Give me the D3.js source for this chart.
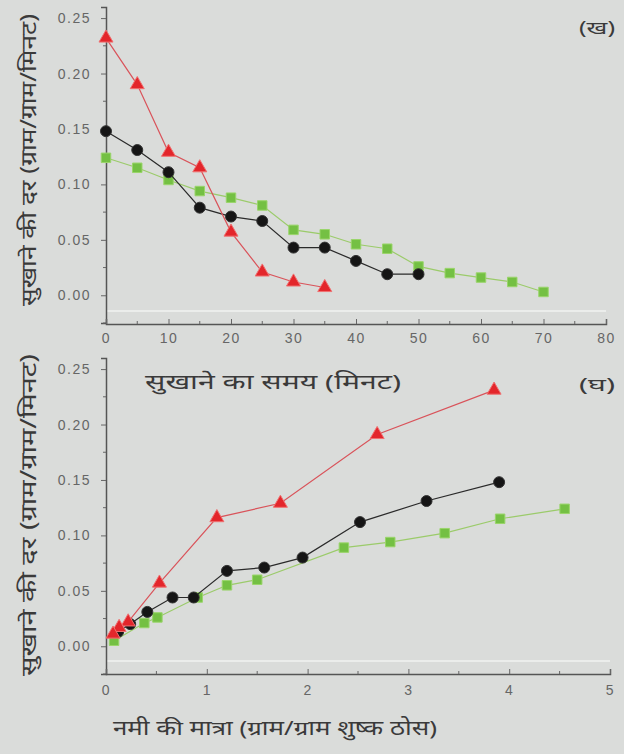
<!DOCTYPE html>
<html>
<head>
<meta charset="utf-8">
<script src="https://cdn.jsdelivr.net/npm/d3@7/dist/d3.min.js"></script>
<style>
	body { margin: 0; background: #dadcda; }
	svg { display: block; font-family: "Noto Sans", sans-serif; }
</style>
</head>
<body>
<div id="container"></div>
<script>
// data, top panel (ख): drying rate vs drying time
const timeRed = [0, 5, 10, 15, 20, 25, 30, 35]
const rateRed = [0.232, 0.19, 0.129, 0.115, 0.057, 0.021, 0.012, 0.007]
const timeBlack = [0, 5, 10, 15, 20, 25, 30, 35, 40, 45, 50]
const rateBlack = [0.148, 0.131, 0.111, 0.079, 0.071, 0.067, 0.043, 0.043, 0.031, 0.019, 0.019]
const timeGreen = [0, 5, 10, 15, 20, 25, 30, 35, 40, 45, 50, 55, 60, 65, 70]
const rateGreen = [0.124, 0.115, 0.104, 0.094, 0.088, 0.081, 0.059, 0.055, 0.046, 0.042, 0.026, 0.02, 0.016, 0.012, 0.003]

// data, bottom panel (घ): drying rate vs moisture content
const moistRed = [3.85, 2.69, 1.73, 1.1, 0.53, 0.22, 0.13, 0.07]
const rateRed2 = [0.231, 0.191, 0.129, 0.116, 0.057, 0.022, 0.017, 0.011]
const moistBlack = [3.9, 3.18, 2.52, 1.95, 1.57, 1.2, 0.87, 0.66, 0.41, 0.24, 0.12]
const rateBlack2 = [0.148, 0.131, 0.112, 0.08, 0.071, 0.068, 0.044, 0.044, 0.031, 0.02, 0.013]
const moistGreen = [4.55, 3.91, 3.36, 2.82, 2.36, 1.5, 1.2, 0.91, 0.51, 0.38, 0.08]
const rateGreen2 = [0.124, 0.115, 0.102, 0.094, 0.089, 0.06, 0.055, 0.044, 0.026, 0.021, 0.005]

// ticks and text
const rateTicks = [0, 0.05, 0.1, 0.15, 0.2, 0.25]
const timeTicks = [0, 10, 20, 30, 40, 50, 60, 70, 80]
const moistTicks = [0, 1, 2, 3, 4, 5]
const yLabel = "सुखाने की दर (ग्राम/ग्राम/मिनट)"
const xLabelTop = "सुखाने का समय (मिनट)"
const xLabelBottom = "नमी की मात्रा (ग्राम/ग्राम शुष्क ठोस)"
const panelTop = "(ख)"
const panelBottom = "(घ)"

const width = 624
const height = 754

const svg = d3.select("#container")
	.append("svg")
	.attr("width", width)
	.attr("height", height)

svg.append("rect")
	.attr("width", width)
	.attr("height", height)
	.attr("fill", "#dadcda")

const colors = { red: "#e3262b", black: "#151515", green: "#74c043" }
const lineColors = { red: "#d9535a", black: "#2a2a2a", green: "#9bcb6a" }

function textStyle(sel, size, len) {
	sel.attr("text-anchor", "middle")
		.attr("fill", "#3a3a3a")
		.style("font-size", size + "px")
		.attr("textLength", len)
		.attr("lengthAdjust", "spacingAndGlyphs")
}

function drawPanel(opts) {
	const { x, y, axisY, series, xTicks, xMinor, xLabel, xLabelY, panel, panelY } = opts
	const g = svg.append("g")

	// faint line above the x axis
	g.append("line")
		.attr("x1", x.range()[0]).attr("x2", x.range()[1])
		.attr("y1", axisY - 13).attr("y2", axisY - 13)
		.attr("stroke", "#ebedeb").attr("stroke-width", 2)

	// y axis
	const yAxis = g.append("g")
		.attr("transform", `translate(${x.range()[0]},0)`)
		.call(d3.axisLeft(y).tickValues(rateTicks).tickFormat(d3.format(".2f")).tickSize(5).tickPadding(10))
	yAxis.append("g").selectAll("line")
		.data(d3.range(-0.025, 0.26, 0.05))
		.join("line")
		.attr("x2", -3)
		.attr("y1", d => y(d)).attr("y2", d => y(d))
		.attr("stroke", "#666")

	// x axis, ticks pointing up
	const xAxis = g.append("g")
		.attr("transform", `translate(0,${axisY})`)
		.call(d3.axisBottom(x).tickValues(xTicks).tickFormat(d3.format("d")).tickSize(-5).tickPadding(opts.xPad))
	xAxis.append("g").selectAll("line")
		.data(xMinor)
		.join("line")
		.attr("x1", d => x(d)).attr("x2", d => x(d))
		.attr("y2", -3)
		.attr("stroke", "#666")

	g.selectAll(".domain").attr("stroke", "#555").attr("stroke-width", 1.5)
	g.selectAll(".tick line").attr("stroke", "#666")
	g.selectAll(".tick text").attr("fill", "#666").style("font-size", "14px").style("letter-spacing", "1.5px")

	// series
	const line = d3.line().x(d => x(d[0])).y(d => y(d[1]))
	series.forEach(s => {
		const pts = d3.zip(s.xs, s.ys)
		g.append("path")
			.datum(pts)
			.attr("fill", "none")
			.attr("stroke", lineColors[s.color])
			.attr("stroke-width", 1.2)
			.attr("d", line)
		const sym = d3.symbol()
			.type(s.color === "red" ? d3.symbolTriangle : s.color === "black" ? d3.symbolCircle : d3.symbolSquare)
			.size(s.color === "red" ? 85 : s.color === "black" ? 95 : 90)
		g.append("g").selectAll("path")
			.data(pts)
			.join("path")
			.attr("transform", d => `translate(${x(d[0])},${y(d[1])})`)
			.attr("d", sym)
			.attr("fill", colors[s.color])
			.attr("stroke", s.color === "green" ? "#9ad56a" : s.color === "red" ? "#f07070" : "#333")
			.attr("stroke-width", 1)
	})

	// labels
	g.append("text")
		.attr("transform", `translate(36,${opts.yLabelMid}) rotate(-90)`)
		.call(textStyle, 21, opts.yLabelLen)
		.text(yLabel)
	g.append("text")
		.attr("x", opts.xLabelX)
		.attr("y", xLabelY)
		.call(textStyle, 20, opts.xLabelLen)
		.text(xLabel)
	g.append("text")
		.attr("x", 597)
		.attr("y", panelY)
		.call(textStyle, 18, 36)
		.text(panel)
}

// top panel
const xTime = d3.scaleLinear().domain([0, 80]).range([106, 606])
const yTop = d3.scaleLinear().domain([-0.025, 0.26]).range([323, 7])
drawPanel({
	x: xTime, y: yTop, axisY: 324, xPad: 9,
	series: [
		{ xs: timeGreen, ys: rateGreen, color: "green" },
		{ xs: timeBlack, ys: rateBlack, color: "black" },
		{ xs: timeRed, ys: rateRed, color: "red" },
	],
	xTicks: timeTicks,
	xMinor: d3.range(5, 80, 10),
	yLabelMid: 160, yLabelLen: 292,
	xLabel: xLabelTop, xLabelX: 273, xLabelY: 389, xLabelLen: 256,
	panel: panelTop, panelY: 34,
})

// bottom panel
const xMoist = d3.scaleLinear().domain([0, 5]).range([106, 610])
const yBottom = d3.scaleLinear().domain([-0.025, 0.26]).range([674, 358])
drawPanel({
	x: xMoist, y: yBottom, axisY: 674, xPad: 11,
	series: [
		{ xs: moistGreen, ys: rateGreen2, color: "green" },
		{ xs: moistBlack, ys: rateBlack2, color: "black" },
		{ xs: moistRed, ys: rateRed2, color: "red" },
	],
	xTicks: moistTicks,
	xMinor: d3.range(0.5, 5, 1),
	yLabelMid: 515, yLabelLen: 322,
	xLabel: xLabelBottom, xLabelX: 275, xLabelY: 735, xLabelLen: 324,
	panel: panelBottom, panelY: 391,
})
</script>
</body>
</html>
